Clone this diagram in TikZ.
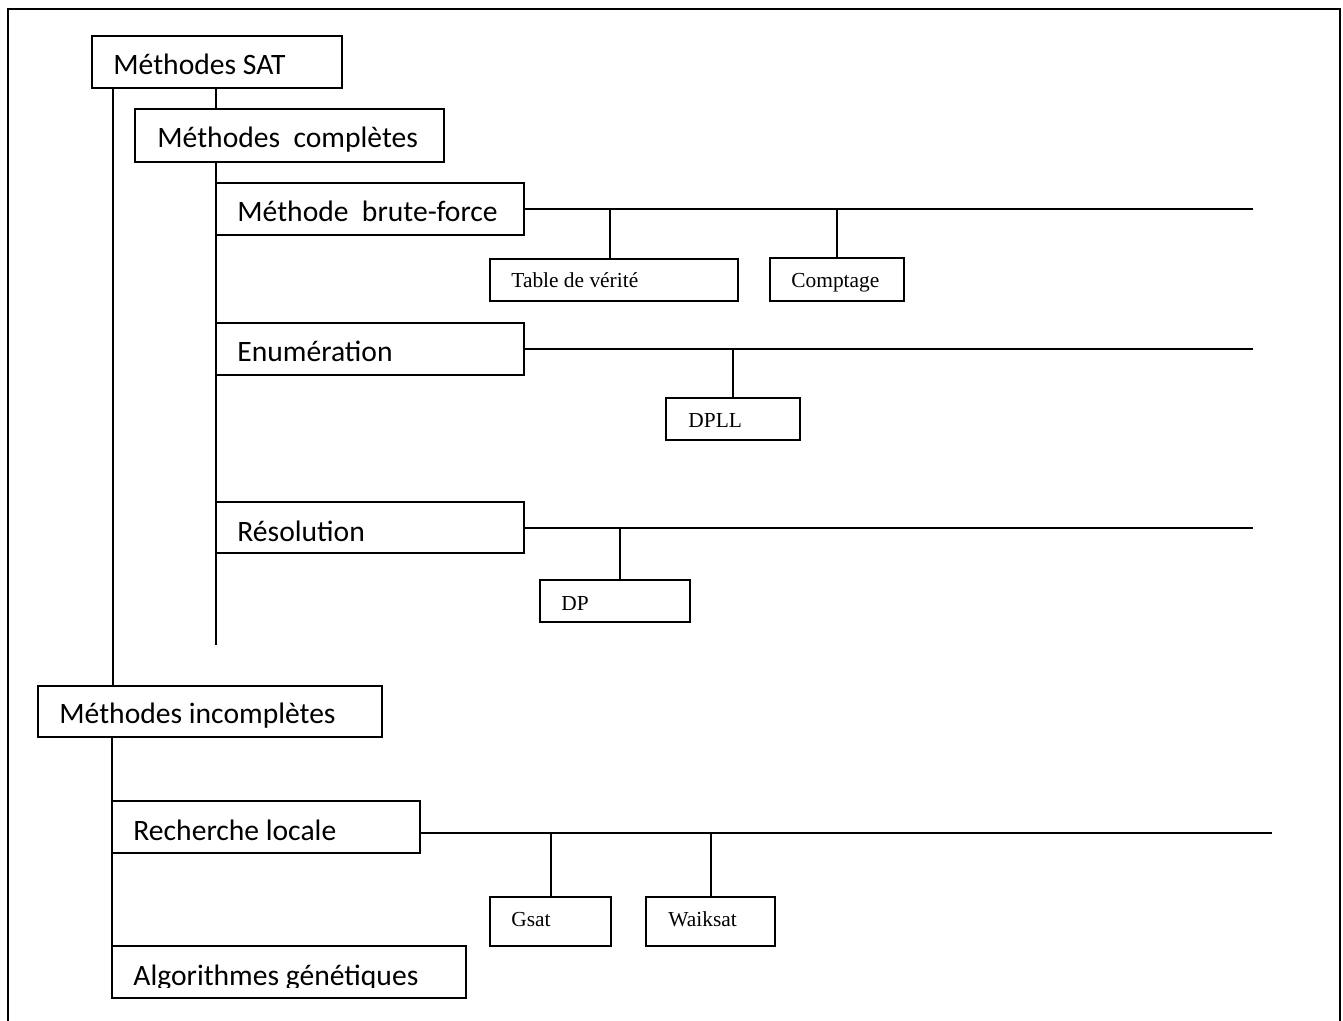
\documentclass[tikz,border=0pt]{standalone}
\usepackage{fontspec}
\setmainfont{Liberation Serif}
\newfontfamily\labelsans{Carlito}
\begin{document}
\begin{tikzpicture}[x=0.5pt,y=-0.5pt,
  box/.style={draw, line width=1pt, anchor=north west, inner sep=0pt, outer sep=0pt},
  big/.style={font=\labelsans\fontsize{14.8}{17}\selectfont, anchor=base west, inner sep=0pt},
  small/.style={font=\fontsize{10.7}{12}\selectfont, anchor=base west, inner sep=0pt},
  link/.style={line width=1pt}]
\clip (0,0) rectangle (1343,1021);

% outer frame (open at the bottom of the page)
\draw[line width=1pt] (8,1040) -- (8,9) -- (1340,9) -- (1340,1040);

% main category boxes
\node[box, minimum width=125pt, minimum height=26pt]   (sat)    at (92,36)  {};
\node[box, minimum width=154.5pt, minimum height=26.5pt] (comp) at (135,109) {};
\node[box, minimum width=154pt, minimum height=26pt]   (brute)  at (216,183) {};
\node[box, minimum width=154pt, minimum height=26pt]   (enum)   at (216,323) {};
\node[box, minimum width=154pt, minimum height=25.5pt] (reso)   at (216,502) {};
\node[box, minimum width=172pt, minimum height=25.5pt] (incomp) at (38,686)  {};
\node[box, minimum width=154pt, minimum height=26pt]   (rech)   at (112,801) {};
\node[box, minimum width=177pt, minimum height=26pt]   (algo)   at (112,946) {};

% leaf boxes
\node[box, minimum width=124pt, minimum height=21pt]   (table)  at (490,259) {};
\node[box, minimum width=67pt, minimum height=21.5pt]  (compt)  at (770,258) {};
\node[box, minimum width=67pt, minimum height=21pt]    (dpll)   at (666,398) {};
\node[box, minimum width=75pt, minimum height=21pt]    (dp)     at (540,580) {};
\node[box, minimum width=60.5pt, minimum height=24.5pt] (gsat)  at (490,897) {};
\node[box, minimum width=64.5pt, minimum height=24.5pt] (waik)  at (646,897) {};

% labels
\node[big] (satT)    at (113,75)  {Méthodes SAT};
\node[big] (compT)   at (157,148) {Méthodes\ \ complètes};
\node[big] (bruteT)  at (237,222) {Méthode\ \ brute-force};
\node[big] (enumT)   at (237,362) {Enumération};
\node[big] (resoT)   at (237,541) {Résolution};
\node[big] (incompT) at (59,723)  {Méthodes incomplètes};
\node[big] (rechT)   at (133,840) {Recherche locale};
\begin{scope}
  \clip (112,946) rectangle (466,987);
  \node[big] (algoT) at (133,985) {Algorithmes génétiques};
\end{scope}

\node[small] (tableT) at (511,288) {Table de vérité};
\node[small] (comptT) at (791,288) {Comptage};
\node[small] (dpllT)  at (688,428) {DPLL};
\node[small] (dpT)    at (561,610) {DP};
\node[small] (gsatT)  at (511,926) {Gsat};
\node[small] (waikT)  at (668,926) {Waiksat};

% free ends of the connectors
\coordinate (compEnd)  at (216,645);
\coordinate (bruteEnd) at (1253,209);
\coordinate (enumEnd)  at (1253,349);
\coordinate (resoEnd)  at (1253,528);
\coordinate (rechEnd)  at (1272,833);

% tree trunks
\draw[link] (sat.south west) ++(21,0) coordinate (satX) -- (satX |- incomp.north);
\draw[link] (sat.south -| brute.west) -- (comp.north -| brute.west);
\draw[link] (comp.south -| compEnd) -- (compEnd);
\draw[link] (incomp.south west) ++(74,0) coordinate (incX) -- (incX |- algo.north);

% branches
\draw[link] (brute.east) -- (bruteEnd);
\draw[link] (enum.east) -- (enumEnd);
\draw[link] (reso.east |- resoEnd) -- (resoEnd);
\draw[link] (rech.east |- rechEnd) -- (rechEnd);

% drops to the leaves
\draw[link] ([xshift=-2pt]table.north) -- ([xshift=-2pt]table.north |- bruteEnd);
\draw[link] (compt.north) -- (compt.north |- bruteEnd);
\draw[link] (dpll.north) -- (dpll.north |- enumEnd);
\draw[link] ([xshift=2.5pt]dp.north) -- ([xshift=2.5pt]dp.north |- resoEnd);
\draw[link] (gsat.north) -- (gsat.north |- rechEnd);
\draw[link] (waik.north) -- (waik.north |- rechEnd);
\end{tikzpicture}
\end{document}
